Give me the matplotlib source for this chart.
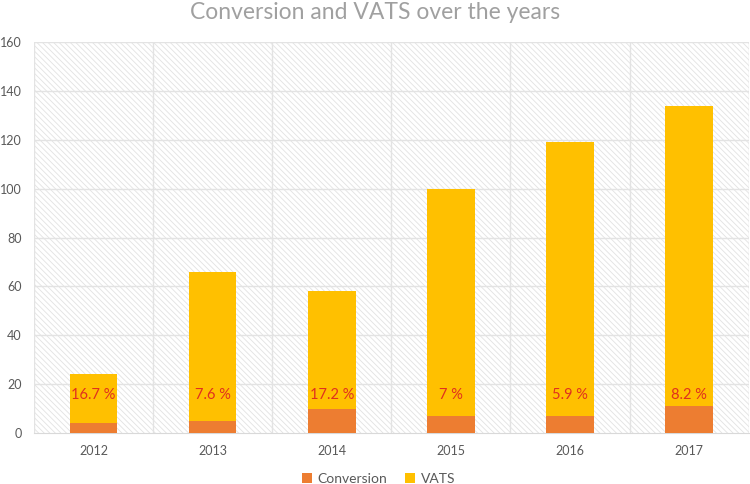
import numpy as np
import matplotlib
matplotlib.use("Agg")
import matplotlib.pyplot as plt
from matplotlib.patches import Rectangle

years = ["2012", "2013", "2014", "2015", "2016", "2017"]
conversion = [4, 5, 10, 7, 7, 11]
vats = [20, 61, 48, 93, 112, 123]
rate_labels = ["16.7 %", "7.6 %", "17.2 %", "7 %", "5.9 %", "8.2 %"]
y_ticks = [0, 20, 40, 60, 80, 100, 120, 140, 160]

plt.rcParams["font.family"] = ["Lato", "DejaVu Sans"]
plt.rcParams["hatch.linewidth"] = 0.6
plt.rcParams["hatch.color"] = "#E2E2E2"

fig = plt.figure(figsize=(7.5, 4.84), dpi=100)
ax = fig.add_axes([0.0453, 0.1054, 0.953, 0.8076])

# hatched plot background
ax.add_patch(Rectangle((0, 0), 1, 1, transform=ax.transAxes, facecolor="white",
                       edgecolor="#E2E2E2", hatch="\\\\\\\\\\\\", linewidth=0, zorder=0))

x = np.arange(len(years))
ax.bar(x, conversion, width=0.4, color="#ED7D31", label="Conversion", zorder=3)
ax.bar(x, vats, width=0.4, bottom=conversion, color="#FFC000", label="VATS", zorder=3)

for xi, lab in zip(x, rate_labels):
    ax.text(xi, 15.5, lab, ha="center", va="center", color="#E0301E", fontsize=10.5, zorder=4)

ax.set_xlim(-0.5, len(years) - 0.5)
ax.set_ylim(0, 160)
ax.set_yticks(y_ticks)
ax.set_xticks(x)
ax.set_xticklabels(years)

for yv in y_ticks[1:]:
    ax.axhline(yv, color="#E3E3E3", lw=1, zorder=1)
for xv in np.arange(-0.5, len(years), 1.0):
    ax.axvline(xv, color="#E3E3E3", lw=1, zorder=1)

for side in ["top", "right", "left"]:
    ax.spines[side].set_visible(False)
ax.spines["bottom"].set_color("#D9D9D9")
ax.tick_params(axis="both", length=0, colors="#595959", labelsize=9)
ax.tick_params(axis="x", pad=9)
ax.tick_params(axis="y", pad=9)

fig.suptitle("Conversion and VATS over the years", x=0.5, y=0.995, fontsize=16.5,
             color="#A0A0A0")

fig.legend(loc="center", bbox_to_anchor=(0.505, 0.011), ncol=2, frameon=False,
           fontsize=10, labelcolor="#595959", handlelength=0.7, handleheight=0.7,
           columnspacing=1.3, handletextpad=0.4, borderaxespad=0, borderpad=0)

fig.savefig("out.png", dpi=100)
